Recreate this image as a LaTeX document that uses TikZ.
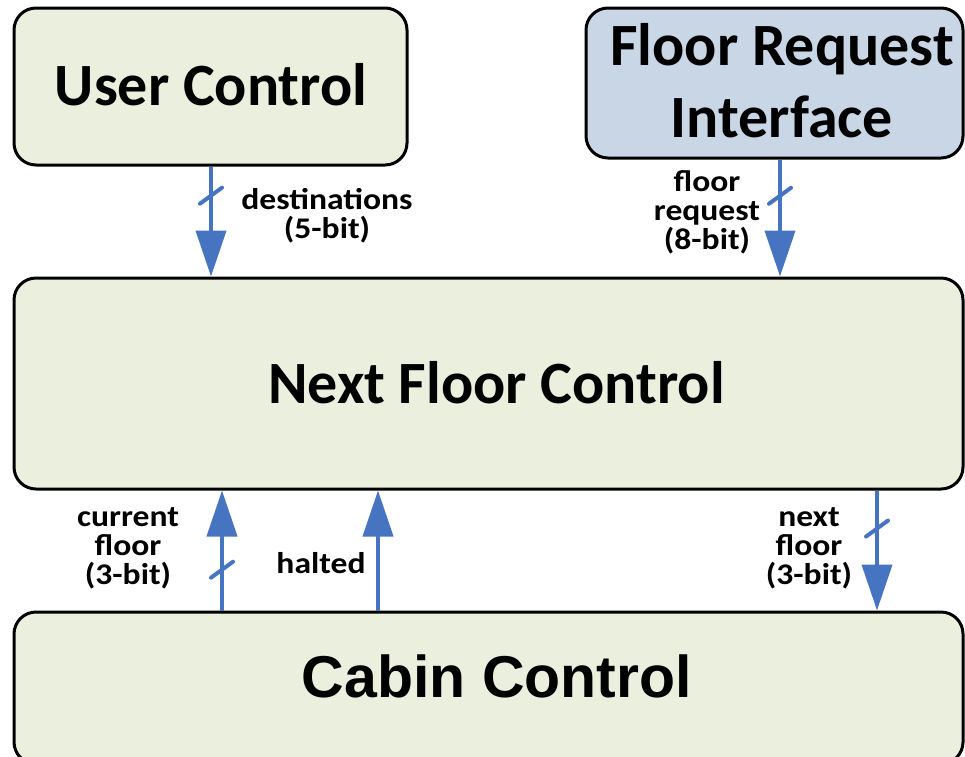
\documentclass[tikz,border=0pt]{standalone}
\usepackage{fontspec}
\setmainfont{Carlito}
\newfontfamily\arialfont{Liberation Sans}
\newfontfamily\lblfont[FakeStretch=1.12]{Carlito}
\usetikzlibrary{arrows.meta}

\definecolor{boxgreen}{RGB}{235,239,222}
\definecolor{boxblue}{RGB}{200,214,230}
\definecolor{busblue}{RGB}{71,116,193}

\tikzset{
  blk/.style={draw=black, line width=3pt, rounded corners=22pt, fill=boxgreen,
    inner sep=0pt, anchor=center},
  title/.style={font=\bfseries\fontsize{60}{72}\selectfont, inner sep=0pt,
    anchor=base, align=center},
  lbl/.style={font=\lblfont\bfseries\fontsize{30}{29}\selectfont, inner sep=0pt,
    anchor=base, align=center},
  sig/.style={draw=busblue, line width=4pt,
    -{Triangle[length=46pt, width=30pt]}},
  busmark/.style={draw=busblue, line width=4pt, line cap=round},
}

\begin{document}
\begin{tikzpicture}[x=1pt, y=-1pt]
\useasboundingbox (0,0) rectangle (965,756);

% blocks
\node[blk, minimum width=393pt, minimum height=157pt] (uc) at (210.5,86.5) {};
\node[blk, fill=boxblue, minimum width=377pt, minimum height=150pt] (fri) at (774.5,83) {};
\node[blk, minimum width=949pt, minimum height=211pt] (nfc) at (488.5,383.5) {};
\node[blk, minimum width=949pt, minimum height=152pt] (cc) at (488.5,688) {};

% block titles (a multi-line node sits on the baseline of its last line)
\node[title] (uct) at (211,105) {User Control};
\node[title] (frit) at (782,137) {Floor Request\\Interface};
\node[title] (nfct) at (496.5,403) {Next Floor Control};
\node[title, font=\arialfont\bfseries\fontsize{59}{72}\selectfont] (cct) at (497,697) {Cabin Control};

% signal columns
\coordinate (xd) at (211,0);
\coordinate (xr) at (780,0);
\coordinate (xc) at (222,0);
\coordinate (xh) at (378,0);
\coordinate (xn) at (877,0);

% signals
\draw[sig] (xd |- uc.south) -- (xd |- nfc.north) coordinate[pos=0.265] (s1);
\draw[sig] (xr |- fri.south) -- (xr |- nfc.north) coordinate[pos=0.31] (s2);
\draw[sig] (xc |- cc.north) -- (xc |- nfc.south) coordinate[pos=0.34] (s3);
\draw[sig] (xh |- cc.north) -- (xh |- nfc.south);
\draw[sig] (xn |- nfc.south) -- (xn |- cc.north) coordinate[pos=0.317] (s4);

% bus width marks
\foreach \s in {s1,s2,s3,s4}
  \draw[busmark] (\s) ++(-11,8) -- ++(22,-16);

% signal labels
\node[lbl] (ld) at (327,238) {destinations\\(5-bit)};
\node[lbl] (lr) at (707,249) {floor\\request\\(8-bit)};
\node[lbl] (lc) at (128,584) {current\\floor\\(3-bit)};
\node[lbl] (lh) at (321,573) {halted};
\node[lbl] (ln) at (809,584) {next\\floor\\(3-bit)};
\end{tikzpicture}
\end{document}
